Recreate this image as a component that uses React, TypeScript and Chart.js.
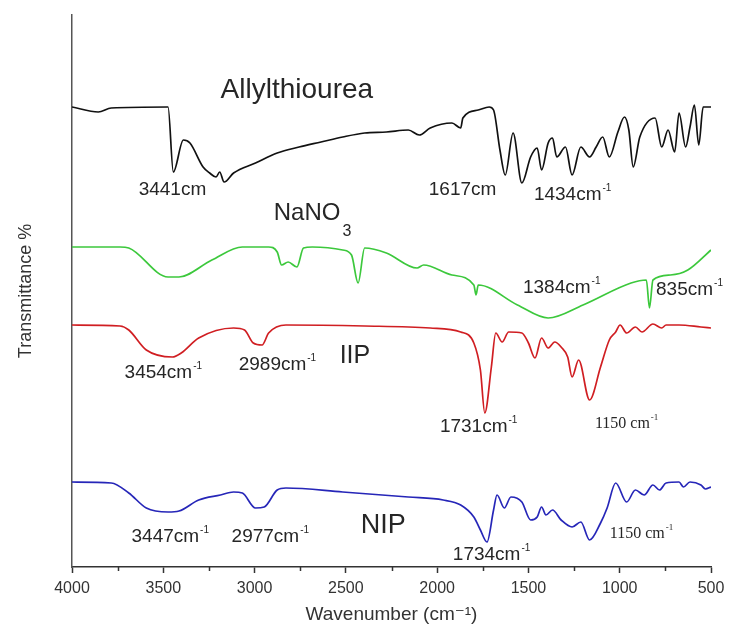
import { useEffect, useRef } from "react";
import { Chart, registerables } from "chart.js";
Chart.register(...registerables);

// Wavenumber (cm^-1) and offset transmittance (a.u.) for each spectrum
const allylWn = [4000, 3856, 3785, 3474, 3445, 3390, 3354, 3282, 3246, 3211, 3191, 3167, 3115, 2995, 2876, 2756, 2636, 2517, 2397, 2278, 2158, 2098, 2038, 1919, 1871, 1859, 1775, 1715, 1691, 1656, 1627, 1584, 1536, 1488, 1452, 1428, 1392, 1368, 1345, 1297, 1261, 1213, 1165, 1129, 1093, 1057, 1010, 974, 950, 926, 890, 806, 770, 735, 699, 675, 639, 615, 591, 567, 543, 500];
const allylT = [460, 455, 459, 460, 395, 427, 424, 400, 394, 390, 395, 385, 394, 404, 414, 420, 425, 430, 434, 435, 437, 432, 439, 444, 439, 449, 457, 460, 457, 417, 392, 434, 384, 410, 419, 397, 424, 429, 410, 420, 392, 420, 410, 420, 430, 410, 435, 450, 437, 400, 430, 449, 420, 437, 415, 454, 420, 440, 462, 422, 460, 460];

const nano3Wn = [4000, 3737, 3689, 3474, 3414, 3234, 3067, 2923, 2876, 2852, 2816, 2768, 2732, 2684, 2517, 2469, 2433, 2397, 2278, 2110, 2074, 1919, 1799, 1787, 1775, 1560, 1392, 1201, 938, 854, 837, 818, 722, 627, 500];
const nano3T = [320, 320, 319, 290, 290, 307, 320, 320, 315, 302, 305, 300, 319, 320, 317, 312, 284, 319, 314, 299, 302, 292, 282, 272, 282, 262, 249, 262, 284, 287, 259, 287, 292, 297, 317];

const iipWn = [4000, 3737, 3689, 3593, 3450, 3402, 3306, 3115, 3055, 3007, 2959, 2923, 2828, 2397, 2038, 1871, 1799, 1763, 1739, 1703, 1679, 1644, 1608, 1536, 1500, 1464, 1428, 1392, 1356, 1321, 1285, 1261, 1225, 1165, 1105, 1057, 1022, 998, 962, 914, 878, 818, 770, 746, 675, 555, 500];
const iipT = [242, 241, 237, 217, 210, 214, 229, 239, 237, 224, 222, 234, 242, 241, 239, 235, 224, 197, 154, 200, 234, 225, 235, 234, 224, 209, 229, 219, 225, 220, 210, 190, 207, 167, 200, 227, 235, 242, 234, 240, 235, 243, 239, 242, 242, 240, 239];

const nipWn = [4000, 3785, 3689, 3593, 3474, 3414, 3306, 3187, 3115, 3067, 2995, 2947, 2876, 2828, 2517, 2158, 1967, 1871, 1799, 1763, 1727, 1691, 1672, 1632, 1596, 1536, 1488, 1452, 1428, 1404, 1368, 1321, 1261, 1213, 1165, 1105, 1069, 1022, 962, 914, 866, 818, 782, 746, 675, 651, 615, 555, 531, 500];
const nipT = [85, 84, 74, 59, 55, 56, 67, 72, 75, 74, 59, 60, 77, 79, 75, 70, 67, 62, 50, 37, 25, 57, 72, 59, 70, 65, 47, 50, 60, 52, 57, 47, 40, 45, 27, 44, 59, 84, 65, 77, 72, 82, 77, 84, 85, 80, 85, 82, 78, 80];

const xTickStep = 500;
const xMinorTicks = [3750, 3250, 2750, 2250, 1750, 1250, 750];

// Annotation texts anchored in data coordinates (left edge, baseline)
const labelText = ["Allylthiourea", "NaNO", "IIP", "NIP", "3441cm", "1617cm", "1434cm", "1384cm", "835cm", "3454cm", "2989cm", "1731cm", "1150 cm", "3447cm", "2977cm", "1734cm", "1150 cm"];
const labelSup = ["", "", "", "", "", "", "-1", "-1", "-1", "-1", "-1", "-1", "-1", "-1", "-1", "-1", "-1"];
const labelSub = ["", "3", "", "", "", "", "", "", "", "", "", "", "", "", "", "", ""];
const labelWn = [3186, 2895, 2534, 2419, 3635, 2046, 1470, 1530, 801, 3712, 3087, 1985, 1136, 3674, 3126, 1914, 1054];
const labelT = [469, 347, 204, 34, 372, 372, 367, 274, 272, 189, 197, 135, 139, 25, 25, 7, 29];
const labelSize = [28, 24, 25, 27, 19, 19, 19, 19, 19, 19, 19, 19, 16, 19, 19, 19, 16];
const labelSerif = [false, false, false, false, false, false, false, false, false, false, false, false, true, false, false, false, true];

const SANS = "'Liberation Sans', Arial, 'DejaVu Sans', sans-serif";
const SERIF = "'Liberation Serif', 'Times New Roman', serif";

const annotPlugin = {
  id: "annot",
  afterDatasetsDraw(chart: any) {
    const { ctx, scales } = chart;
    const x = scales.x, y = scales.y;
    ctx.save();
    ctx.fillStyle = "#262626";
    ctx.textAlign = "left";
    ctx.textBaseline = "alphabetic";
    labelText.forEach((t, i) => {
      const fam = labelSerif[i] ? SERIF : SANS;
      const px = x.getPixelForValue(labelWn[i]);
      const py = y.getPixelForValue(labelT[i]);
      const s = labelSize[i];
      ctx.font = `${s}px ${fam}`;
      ctx.fillText(t, px, py);
      const w = ctx.measureText(t).width;
      if (labelSup[i]) {
        ctx.font = `${Math.round(s * 0.55)}px ${fam}`;
        ctx.fillText(labelSup[i], px + w + 1, py - s * 0.5);
      }
      if (labelSub[i]) {
        ctx.font = `${Math.round(s * 0.68)}px ${fam}`;
        ctx.fillText(labelSub[i], px + w + 2, py + s * 0.65);
      }
    });
    ctx.restore();
  },
  afterDraw(chart: any) {
    const { ctx, scales } = chart;
    const x = scales.x;
    ctx.save();
    ctx.strokeStyle = "#333";
    ctx.lineWidth = 1.5;
    xMinorTicks.forEach((v) => {
      const px = Math.round(x.getPixelForValue(v)) + 0.5;
      ctx.beginPath();
      ctx.moveTo(px, x.top);
      ctx.lineTo(px, x.top + 4);
      ctx.stroke();
    });
    ctx.restore();
  },
};

function toPoints(wn: number[], t: number[]) {
  return wn.map((w, i) => ({ x: w, y: t[i] }));
}

export default function App() {
  const ref = useRef<HTMLCanvasElement | null>(null);
  useEffect(() => {
    document.body.style.margin = "0";
    if (!ref.current) return;
    const line = (label: string, wn: number[], t: number[], color: string) => ({
      label,
      data: toPoints(wn, t),
      borderColor: color,
      backgroundColor: color,
      borderWidth: 1.7,
      pointRadius: 0,
      fill: false,
      cubicInterpolationMode: "monotone" as const,
    });
    const chart = new Chart(ref.current, {
      type: "line",
      data: {
        datasets: [
          line("Allylthiourea", allylWn, allylT, "#111111"),
          line("NaNO3", nano3Wn, nano3T, "#3cc83c"),
          line("IIP", iipWn, iipT, "#d01e22"),
          line("NIP", nipWn, nipT, "#2626b8"),
        ],
      },
      options: {
        animation: false,
        responsive: true,
        maintainAspectRatio: false,
        layout: { padding: { top: 15, right: 34, bottom: 0, left: 0 } },
        plugins: { legend: { display: false }, tooltip: { enabled: false } },
        scales: {
          x: {
            type: "linear",
            reverse: true,
            min: 500,
            max: 4000,
            position: "bottom",
            ticks: {
              stepSize: xTickStep,
              autoSkip: false,
              maxRotation: 0,
              color: "#333",
              padding: 6,
              font: { family: SANS, size: 16 },
              callback: (v: any) => String(v),
            },
            grid: { drawOnChartArea: false, drawTicks: true, tickLength: 6, tickColor: "#333", tickWidth: 1.5 },
            border: { display: true, color: "#333", width: 1.5 },
            title: {
              display: true,
              text: "Wavenumber (cm⁻¹)",
              color: "#333",
              font: { family: SANS, size: 19 },
              padding: { top: 0, bottom: 5 },
            },
            afterFit: (s: any) => {
              s.height = 64;
            },
          },
          y: {
            min: 0,
            max: 552,
            ticks: { display: false },
            grid: { display: false },
            border: { display: true, color: "#555", width: 1.5 },
            title: {
              display: true,
              text: "Transmittance %",
              color: "#333",
              font: { family: SANS, size: 18 },
              padding: { top: 15, bottom: 0 },
            },
            afterFit: (s: any) => {
              s.width = 72;
            },
          },
        },
      },
      plugins: [annotPlugin],
    });
    return () => chart.destroy();
  }, []);
  return (
    <div style={{ width: 745, height: 631, position: "relative" }}>
      <canvas ref={ref} />
    </div>
  );
}
